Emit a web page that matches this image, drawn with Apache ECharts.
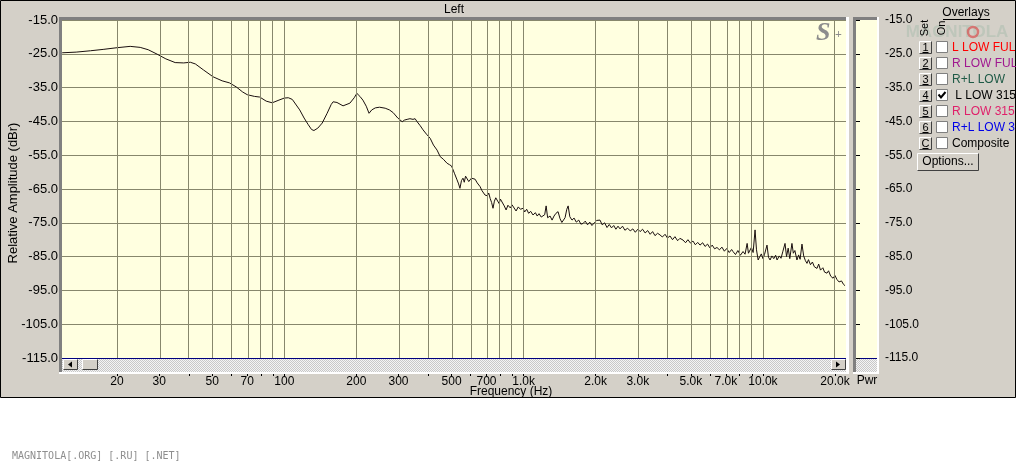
<!DOCTYPE html>
<html><head><meta charset="utf-8">
<script src="https://cdn.jsdelivr.net/npm/echarts@6/dist/echarts.min.js"></script>
<style>html,body{margin:0;padding:0;background:#fff}#c{width:1016px;height:466px}</style>
</head><body><div id="c"></div>
<script>
// ---------------- data ----------------
const freqHz = [
  11.8, 13.5, 15.5, 17.5, 20, 22.7, 25, 27, 29.4, 32, 35, 38, 40.5, 42.5, 46, 50.4, 55, 59, 63, 67,
  70, 75, 79, 84, 89, 95, 100, 104, 108, 116, 121, 126, 130, 133, 138, 144, 151, 157, 160, 166,
  176, 188, 196, 201, 207, 213, 220, 226, 232, 240, 250, 264, 275, 285, 298, 311, 318, 326, 335, 345,
  352, 359, 370, 380, 393, 407, 420, 435, 448, 462, 479, 490,
  500, 515, 527, 535, 542, 550, 558, 565, 572, 581, 590, 597, 605, 615, 627, 640, 658, 670, 690, 705,
  715, 725, 735, 745, 755, 765, 775, 790, 800, 813, 830, 845, 860, 880, 895, 910, 930, 950, 970, 995,
  1010, 1030, 1050, 1070, 1095, 1120, 1140, 1160, 1185, 1206, 1225, 1242, 1260, 1290, 1315, 1340, 1365, 1393, 1420, 1445,
  1462, 1490, 1515, 1535, 1560, 1593, 1625, 1660, 1700, 1735, 1771, 1810, 1850, 1890, 1930, 1975, 2020, 2085, 2130, 2180,
  2231, 2280, 2330, 2380, 2430, 2480, 2529, 2590, 2650, 2720, 2790, 2860, 2930, 3000, 3069, 3140, 3220, 3300, 3380, 3460,
  3540, 3630, 3716, 3800, 3900, 3990, 4090, 4190, 4290, 4400, 4500, 4636, 4750, 4860, 4980, 5100, 5220, 5340, 5459, 5600,
  5730, 5870, 6000, 6140, 6280, 6428, 6580, 6740, 6900, 7060, 7230, 7400, 7498, 7680, 7860, 8050, 8260, 8420, 8590, 8700,
  8832, 8950, 9100, 9271, 9400, 9551, 9700, 9850, 10000, 10150, 10400, 10550, 10715, 10900, 11100, 11300, 11460, 11700, 11900, 12100,
  12370, 12550, 12750, 12950, 13220, 13400, 13600, 13870, 14100, 14300, 14560, 14800, 15050, 15280, 15500, 15800, 16100, 16400, 16820, 17100,
  17400, 17800, 18100, 18520, 18800, 19200, 19640, 20000, 20400, 20800, 21300, 21700, 22030
];
const levelDb = [
  -24.7, -24.5, -24.1, -23.7, -23.2, -22.8, -23.1, -23.8, -25.1, -26.5, -27.6, -27.7, -27.5, -28.0, -29.8, -31.8, -33.0, -33.6, -34.8, -36.3,
  -37.1, -37.6, -37.8, -39.0, -39.5, -38.7, -38.1, -38.0, -38.5, -41.6, -44.0, -46.0, -47.4, -47.7, -47.0, -45.5, -42.6, -40.0, -39.2, -39.4,
  -40.4, -39.6, -38.0, -36.7, -37.6, -38.7, -40.5, -42.6, -41.6, -41.0, -40.8, -41.1, -41.6, -42.4, -44.0, -45.1, -44.6, -44.4, -44.2, -44.4,
  -44.2, -45.1, -46.3, -47.5, -48.8, -50.0, -52.0, -53.5, -55.4, -56.2, -57.4, -57.8,
  -58.2, -60.5, -62.3, -63.5, -64.8, -62.5, -61.8, -63.0, -61.2, -61.5, -62.8, -62.3, -61.8, -62.0, -62.1, -63.2, -64.3, -65.5, -66.8, -67.0,
  -66.2, -67.8, -69.0, -70.7, -68.6, -67.6, -67.8, -69.3, -68.0, -68.3, -70.0, -71.2, -69.8, -70.6, -69.7, -70.2, -71.5, -70.3, -71.0, -70.7,
  -71.8, -71.0, -72.2, -71.6, -72.7, -72.0, -73.0, -72.3, -73.3, -73.2, -72.6, -70.0, -73.5, -73.0, -74.2, -73.0, -72.2, -71.7, -73.8, -74.9,
  -75.2, -73.5, -71.0, -70.0, -73.2, -74.2, -73.6, -74.8, -74.2, -75.4, -75.2, -74.5, -75.6, -74.8, -75.8, -75.0, -74.3, -74.2, -75.6, -75.0,
  -76.4, -75.5, -76.5, -75.8, -76.9, -76.0, -76.8, -76.0, -77.2, -76.6, -77.4, -76.8, -77.8, -76.9, -77.6, -76.9, -78.0, -77.3, -78.4, -77.6,
  -78.8, -78.1, -78.6, -79.2, -78.4, -79.5, -78.9, -80.0, -79.1, -80.3, -79.6, -80.1, -80.9, -80.0, -81.0, -80.4, -81.5, -80.8, -81.6, -80.9,
  -82.0, -81.3, -82.4, -81.6, -82.7, -82.3, -83.0, -82.2, -83.4, -82.6, -83.8, -82.9, -83.5, -84.4, -83.2, -84.6, -83.5, -84.3, -81.1, -84.0,
  -84.5, -82.3, -83.8, -77.1, -83.0, -86.0, -85.0, -84.2, -85.6, -84.4, -81.6, -85.2, -86.0, -84.8, -85.6, -84.6, -86.0, -84.8, -85.5, -83.6,
  -81.1, -85.0, -82.5, -85.6, -81.1, -84.0, -83.2, -86.0, -84.5, -85.8, -81.3, -84.8, -86.2, -87.0, -85.9, -87.4, -86.6, -88.0, -88.5, -87.2,
  -89.0, -88.3, -89.6, -89.9, -89.2, -90.8, -91.4, -90.6, -91.8, -92.5, -92.2, -93.2, -93.6
];
const gridHz = [20,30,40,50,60,70,80,90,100,200,300,400,500,600,700,800,900,1000,2000,3000,4000,5000,6000,7000,8000,9000,10000,20000];
const labelHz = [20,30,50,70,100,200,300,500,700,1000,2000,3000,5000,7000,10000,20000];
const overlayKeys = ['1','2','3','4','5','6','C'];
const overlayNames = ['L LOW FUL','R LOW FUL','R+L LOW',' L LOW 315','R LOW 315','R+L LOW 3','Composite'];
const overlayOn = [false,false,false,true,false,false,false];

// ---------------- styles ----------------
const overlayColors = ['#ff0000','#a01890','#1e5a46','#000000','#e0206a','#0000e8','#000000'];
const FONT = '"Liberation Sans", Arial, sans-serif';
const YELLOW = '#ffffe0';
const GRIDC = '#87876c';
const WIN = '#d4d0c8';

const lg = v => Math.log10(v);
const X_MIN = lg(11.78), X_MAX = lg(22240);

const pc = document.createElement('canvas'); pc.width = 2; pc.height = 2;
const pctx = pc.getContext('2d');
pctx.fillStyle = '#f4f4f4'; pctx.fillRect(0,0,2,2);
pctx.fillStyle = '#c8c8c8'; pctx.fillRect(0,0,1,1); pctx.fillRect(1,1,1,1);
const checker = {image: pc, repeat: 'repeat'};

function fmtHz(v){
  const f = Math.round(Math.pow(10, v));
  return f < 1000 ? String(f) : (f/1000).toFixed(1) + 'k';
}
function txt(x, y, text, opt){
  opt = opt || {};
  return {type:'text', x:x, y:y, z: opt.z || 20, rotation: opt.rotation || 0,
    style:{text:text, fill: opt.fill || '#000', font: opt.font || ('12px ' + FONT),
      textAlign: opt.align || 'left', textVerticalAlign: opt.valign || 'middle', opacity: opt.opacity == null ? 1 : opt.opacity}};
}
function rect(x, y, w, h, fill, z, stroke, lw){
  return {type:'rect', z: z, shape:{x:x, y:y, width:w, height:h},
    style:{fill: fill, stroke: stroke || null, lineWidth: lw || 0}};
}
function line(x1, y1, x2, y2, color, z, lw){
  return {type:'line', z: z, shape:{x1:x1,y1:y1,x2:x2,y2:y2}, style:{stroke:color, lineWidth: lw || 1}};
}
function button3d(x, y, w, h, z){
  return [
    rect(x, y, w, h, WIN, z),
    line(x+0.5, y+0.5, x+w-0.5, y+0.5, '#ffffff', z+1),
    line(x+0.5, y+0.5, x+0.5, y+h-0.5, '#ffffff', z+1),
    line(x+0.5, y+h-0.5, x+w-0.5, y+h-0.5, '#404040', z+1),
    line(x+w-0.5, y+0.5, x+w-0.5, y+h-0.5, '#404040', z+1)
  ];
}

const g = [];
g.push({type:'rect', z:-10, shape:{x:0.5, y:0.5, width:1015, height:397}, style:{fill:WIN, stroke:'#000', lineWidth:1}});
g.push(rect(62, 20, 784, 338, YELLOW, -5));
g.push(rect(856, 20, 21, 338, YELLOW, -5));
g.push(rect(62, 359, 784, 13, checker, 5));
g.push(rect(856, 359, 21, 13, checker, 5));
g.push(rect(59, 17, 790, 3, '#808080', 6));
g.push(rect(59, 17, 3, 357, '#808080', 6));
g.push(rect(59, 372, 790, 2, '#ffffff', 6));
g.push(rect(846, 17, 3, 357, '#ffffff', 6));
g.push(rect(853, 17, 26, 3, '#808080', 6));
g.push(rect(853, 17, 3, 357, '#808080', 6));
g.push(rect(853, 372, 26, 2, '#ffffff', 6));
g.push(rect(877, 17, 2, 357, '#ffffff', 6));
button3d(63, 359, 15, 11, 7).forEach(e => g.push(e));
button3d(82, 359, 16, 11, 7).forEach(e => g.push(e));
button3d(831, 359, 15, 11, 7).forEach(e => g.push(e));
g.push({type:'polygon', z:9, shape:{points:[[68,364.5],[72,361.5],[72,367.5]]}, style:{fill:'#000'}});
g.push({type:'polygon', z:9, shape:{points:[[840,364.5],[836,361.5],[836,367.5]]}, style:{fill:'#000'}});
g.push(txt(454, 9.5, 'Left', {align:'center'}));
g.push(txt(13, 193, 'Relative Amplitude (dBr)', {align:'center', rotation: Math.PI/2, font:'13px ' + FONT}));
g.push(txt(511, 392, 'Frequency (Hz)', {align:'center'}));
g.push(txt(867, 381, 'Pwr', {align:'center'}));
g.push(txt(816, 33, 'S', {font:'bold italic 26px "Liberation Serif", serif', fill:'#8c8c8c'}));
g.push(txt(835, 35, '+', {font:'bold 12px "Liberation Serif", serif', fill:'#8c8c8c'}));
g.push(txt(957, 32, 'MAGNITOLA', {align:'center', font:'bold 17px "Liberation Sans", sans-serif', fill:'#8ab09a', opacity:0.3, z:19}));
g.push({type:'circle', z:19, shape:{cx:973, cy:32, r:5}, style:{fill:null, stroke:'#d85050', lineWidth:2.5, opacity:0.7}});
g.push(txt(966, 13, 'Overlays', {align:'center'}));
g.push(line(943, 19.5, 990, 19.5, '#000', 20));
g.push(txt(925, 28, 'Set', {align:'center', rotation: Math.PI/2, font:'11px ' + FONT}));
g.push(txt(942, 28, 'On', {align:'center', rotation: Math.PI/2, font:'11px ' + FONT}));
overlayKeys.forEach((k, i) => {
  const y0 = 41 + 16 * i;
  button3d(919, y0, 13, 13, 15).forEach(e => g.push(e));
  g.push(txt(925.5, y0 + 6.5, k, {align:'center', font:'11px ' + FONT}));
  g.push(line(922.5, y0 + 11.5, 928.5, y0 + 11.5, '#000', 20));
  g.push({type:'rect', z:15, shape:{x:936.5, y:y0 + 0.5, width:11, height:11}, style:{fill:'#ffffff', stroke:'#808080', lineWidth:1}});
  if (overlayOn[i]) {
    g.push({type:'polyline', z:20, shape:{points:[[938.5, y0 + 5.5],[941, y0 + 8.5],[945.5, y0 + 3]]}, style:{stroke:'#000', lineWidth:2, fill:null}});
  }
  g.push(txt(952, y0 + 7, overlayNames[i], {fill: overlayColors[i]}));
});
button3d(917, 153, 62, 18, 15).forEach(e => g.push(e));
g.push(txt(948, 162, 'Options...', {align:'center'}));
g.push(txt(12, 456, 'MAGNITOLA[.ORG] [.RU] [.NET]', {font:'10px "DejaVu Sans Mono", monospace', fill:'#8e8e8e'}));

const splitColorsMain = ['#000080'].concat(new Array(10).fill(GRIDC));
const splitColorsPwr = ['#000080'].concat(new Array(10).fill('rgba(0,0,0,0)'));

const option = {
  backgroundColor: '#ffffff',
  animation: false,
  grid: [
    {left: 62, top: 20, width: 784, height: 338, containLabel: false},
    {left: 856, top: 20, width: 21, height: 338, containLabel: false}
  ],
  xAxis: [
    {type:'value', gridIndex:0, min:X_MIN, max:X_MAX, position:'bottom', offset:14,
      axisLine:{show:false},
      axisTick:{show:true, length:4, lineStyle:{color:'#000'}, customValues: gridHz.map(lg)},
      axisLabel:{show:true, customValues: labelHz.map(lg), formatter: fmtHz, margin:4,
        color:'#000', fontFamily:'Liberation Sans', fontSize:12},
      splitLine:{show:false}},
    {type:'value', gridIndex:1, min:0, max:1, show:false}
  ],
  yAxis: [
    {type:'value', gridIndex:0, min:-115, max:-15, interval:10,
      axisLine:{show:false}, axisTick:{show:false},
      axisLabel:{formatter: v => v.toFixed(1), margin:4, color:'#000', fontFamily:'Liberation Sans', fontSize:13},
      splitLine:{show:true, lineStyle:{color: splitColorsMain, width:1}}},
    {type:'value', gridIndex:1, min:-115, max:-15, interval:10, position:'right',
      axisLine:{show:false}, axisTick:{show:true, length:4, lineStyle:{color:'#000'}},
      axisLabel:{formatter: v => v.toFixed(1), margin:8, color:'#000', fontFamily:'Liberation Sans', fontSize:12},
      splitLine:{show:true, lineStyle:{color: splitColorsPwr, width:1}}}
  ],
  graphic: {elements: g},
  series: [
    {type:'line', xAxisIndex:0, yAxisIndex:0, data:[], z:1, silent:true,
      markLine:{silent:true, symbol:['none','none'], label:{show:false}, animation:false,
        lineStyle:{color:GRIDC, type:'solid', width:1},
        data: gridHz.map(f => ({xAxis: lg(f)}))}},
    {type:'line', xAxisIndex:0, yAxisIndex:0, z:3, symbol:'none', silent:true, clip:true,
      lineStyle:{color:'#1a0f0f', width:1},
      data: freqHz.map((f, i) => [lg(f), levelDb[i]])}
  ]
};
const chart = echarts.init(document.getElementById('c'), null, {renderer:'canvas'});
chart.setOption(option);
</script>
</body></html>
